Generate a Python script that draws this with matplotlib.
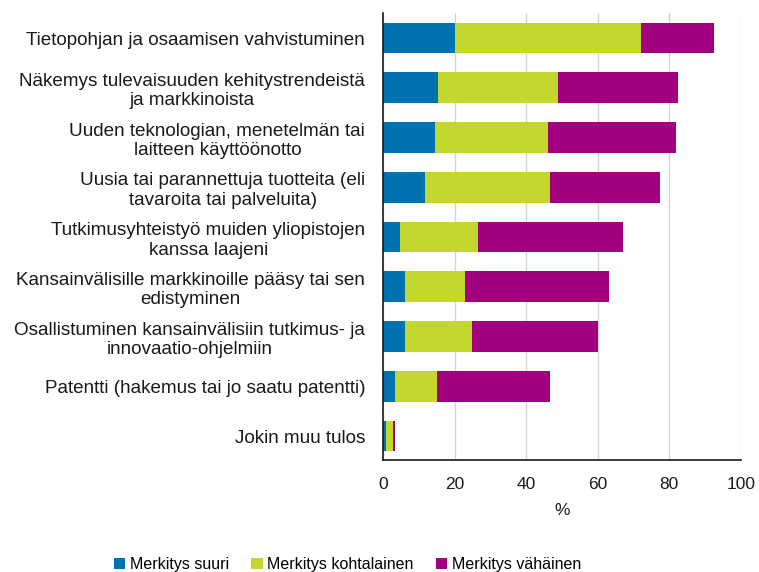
import matplotlib
matplotlib.use("Agg")
import matplotlib.pyplot as plt
import numpy as np

plt.rcParams['font.family'] = ['Liberation Sans', 'DejaVu Sans']

categories = [
    "Tietopohjan ja osaamisen vahvistuminen",
    "Näkemys tulevaisuuden kehitystrendeistä\nja markkinoista",
    "Uuden teknologian, menetelmän tai\nlaitteen käyttöönotto",
    "Uusia tai parannettuja tuotteita (eli\ntavaroita tai palveluita)",
    "Tutkimusyhteistyö muiden yliopistojen\nkanssa laajeni",
    "Kansainvälisille markkinoille pääsy tai sen\nedistyminen",
    "Osallistuminen kansainvälisiin tutkimus- ja\ninnovaatio-ohjelmiin",
    "Patentti (hakemus tai jo saatu patentti)",
    "Jokin muu tulos",
]
suuri = [20.0, 15.4, 14.5, 11.7, 4.7, 6.0, 6.0, 3.3, 0.7]
kohtalainen = [52.0, 33.5, 31.7, 34.9, 21.9, 16.9, 18.8, 11.7, 2.1]
vahainen = [20.5, 33.5, 35.6, 30.8, 40.5, 40.2, 35.2, 31.6, 0.5]
series_names = ["Merkitys suuri", "Merkitys kohtalainen", "Merkitys vähäinen"]
colors = ["#0072B0", "#C3D72F", "#A3007F"]
xticks = [0, 20, 40, 60, 80, 100]

fig = plt.figure(figsize=(7.59, 5.72), dpi=100)
ax = fig.add_axes([0.505, 0.196, 0.471, 0.781])

y = np.arange(len(categories))
s = np.array(suuri)
k = np.array(kohtalainen)
v = np.array(vahainen)
h = 0.62
bars = []
bars.append(ax.barh(y, s, height=h, color=colors[0], label=series_names[0], zorder=3))
bars.append(ax.barh(y, k, left=s, height=h, color=colors[1], label=series_names[1], zorder=3))
bars.append(ax.barh(y, v, left=s + k, height=h, color=colors[2], label=series_names[2], zorder=3))

ax.set_ylim(len(categories) - 0.52, -0.5)
ax.set_xlim(0, 100)
ax.set_xticks(xticks)
ax.set_yticks(y)
ax.set_yticklabels(categories, fontsize=13.6, color="#1a1a1a")
for t in ax.get_yticklabels():
    t.set_multialignment("center")
ax.tick_params(axis='both', length=0, colors="#1a1a1a")
ax.tick_params(axis='x', pad=12, labelsize=12.5)
ax.tick_params(axis='y', pad=13)
ax.set_xlabel("%", fontsize=12.5, color="#1a1a1a", labelpad=8)

ax.grid(axis='x', color="#d4d4d4", linewidth=1.0, zorder=0)
for sp in ['top', 'right']:
    ax.spines[sp].set_visible(False)
ax.spines['left'].set_color("#1a1a1a")
ax.spines['bottom'].set_color("#1a1a1a")
ax.spines['left'].set_linewidth(1.2)
ax.spines['bottom'].set_linewidth(1.2)
ax.spines['left'].set_zorder(4)

fig.legend(handles=bars, labels=series_names, loc='lower center', bbox_to_anchor=(0.458, -0.025),
           ncol=3, frameon=False, fontsize=11.5, handlelength=0.7, handleheight=0.7,
           handletextpad=0.3, columnspacing=1.4)

fig.savefig("out.png", dpi=100)
